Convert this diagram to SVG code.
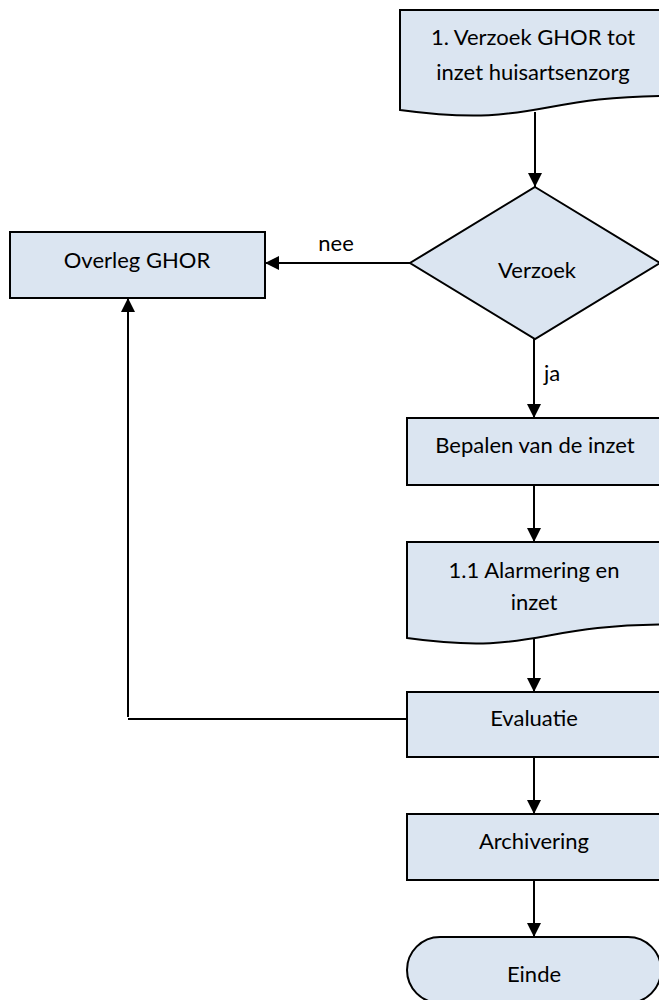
<svg xmlns="http://www.w3.org/2000/svg" width="659" height="1000" viewBox="0 0 659 1000">
<style>
.shape{fill:#dbe5f1;stroke:#000;stroke-width:2}
.t{font-family:Lato,"Open Sans","Liberation Sans",sans-serif;font-size:22px;fill:#000;text-anchor:middle}
.c{fill:none;stroke:#000;stroke-width:2}
</style>
<defs>
<marker id="ah" viewBox="0 0 10 10" refX="10" refY="5" markerWidth="14" markerHeight="14" markerUnits="userSpaceOnUse" orient="auto">
<path d="M0,0 L10,5 L0,10 Z" fill="#000"/>
</marker>
</defs>
<rect width="659" height="1000" fill="#fff"/>
<g id="connectors">
<line class="c" x1="535" y1="112" x2="535" y2="187" marker-end="url(#ah)"/>
<line class="c" x1="410" y1="263" x2="265" y2="263" marker-end="url(#ah)"/>
<line class="c" x1="534" y1="339" x2="534" y2="418" marker-end="url(#ah)"/>
<line class="c" x1="534" y1="485" x2="534" y2="542" marker-end="url(#ah)"/>
<line class="c" x1="534" y1="635" x2="534" y2="692" marker-end="url(#ah)"/>
<line class="c" x1="534" y1="757" x2="534" y2="814" marker-end="url(#ah)"/>
<line class="c" x1="534" y1="880" x2="534" y2="937" marker-end="url(#ah)"/>
<polyline class="c" points="407,719 128,719"/>
<line class="c" x1="128" y1="717" x2="128" y2="298" marker-end="url(#ah)"/>
<text class="t" x="336" y="251">nee</text>
<text class="t" x="552" y="381">ja</text>
</g>
<g id="n1">
<path class="shape" d="M400,10 H670 V95.8 C535,95.8 535,128.4 400,110 Z"/>
<text class="t" x="533" y="45">1. Verzoek GHOR tot</text>
<text class="t" x="533" y="80">inzet huisartsenzorg</text>
</g>
<g id="n2">
<polygon class="shape" points="535,187 660,263 535,339 410,263"/>
<text class="t" x="537" y="278">Verzoek</text>
</g>
<g id="n3">
<rect class="shape" x="10" y="232" width="255" height="66"/>
<text class="t" x="137" y="268">Overleg GHOR</text>
</g>
<g id="n4">
<rect class="shape" x="407" y="418" width="262" height="67"/>
<text class="t" x="535" y="453">Bepalen van de inzet</text>
</g>
<g id="n5">
<path class="shape" d="M407,542 H670 V624.4 C534,624.4 534,655.8 407,638 Z"/>
<text class="t" x="534" y="578">1.1 Alarmering en</text>
<text class="t" x="534" y="610">inzet</text>
</g>
<g id="n6">
<rect class="shape" x="407" y="692" width="262" height="65"/>
<text class="t" x="534" y="726">Evaluatie</text>
</g>
<g id="n7">
<rect class="shape" x="407" y="814" width="262" height="66"/>
<text class="t" x="534" y="849">Archivering</text>
</g>
<g id="n8">
<rect class="shape" x="407" y="937" width="254" height="66" rx="33" ry="33"/>
<text class="t" x="534" y="982">Einde</text>
</g>
</svg>
